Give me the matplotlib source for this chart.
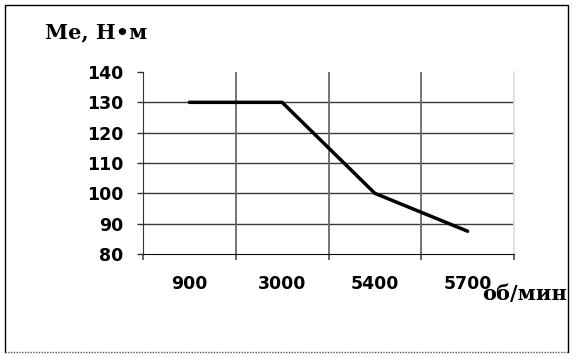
import matplotlib
matplotlib.use("Agg")
import matplotlib.pyplot as plt
from matplotlib.lines import Line2D

# данные
rpm = ["900", "3000", "5400", "5700"]
torque = [130, 130, 100, 87.5]
y_ticks = [80, 90, 100, 110, 120, 130, 140]

W, H = 577, 358
fig = plt.figure(figsize=(W / 100, H / 100), dpi=100)
ax = fig.add_axes([143 / W, 1 - 254 / H, (514 - 143) / W, (254 - 72) / H])

x = list(range(len(rpm)))
ax.plot(x, torque, color="black", lw=2.5, solid_capstyle="round", zorder=5)

ax.set_xlim(-0.5, len(rpm) - 0.5)
ax.set_ylim(y_ticks[0], y_ticks[-1])
ax.set_yticks(y_ticks)
ax.set_xticks(x)
ax.set_xticklabels(rpm)
ax.set_xticks([i - 0.5 for i in x] + [len(rpm) - 0.5], minor=True)

# сетка
for v in y_ticks[1:-1]:
    ax.axhline(v, color="#3a3a3a", lw=1.0, zorder=1)
for v in [i + 0.5 for i in x[:-1]]:
    ax.axvline(v, color="#6a6a6a", lw=1.3, zorder=1)

ax.spines["top"].set_visible(False)
ax.spines["right"].set_color("#dcdcdc")
ax.spines["right"].set_linewidth(1.2)
ax.spines["left"].set_color("#333333")
ax.spines["bottom"].set_color("#111111")

ax.tick_params(axis="y", length=4.3, width=1, color="#333333", pad=10,
               labelsize=12.5)
ax.tick_params(axis="x", which="major", length=0, pad=15, labelsize=12.5)
ax.tick_params(axis="x", which="minor", length=4.5, width=1.3,
               color="#5a5a5a")
for lab in ax.get_xticklabels() + ax.get_yticklabels():
    lab.set_fontfamily("DejaVu Sans")
    lab.set_fontweight("bold")

fig.text(45 / W, 1 - 38 / H, "Me, Н•м", family="DejaVu Serif",
         weight="bold", fontsize=15, va="baseline", ha="left")
fig.text(482 / W, 1 - 300 / H, "об/мин", family="DejaVu Serif",
         weight="bold", fontsize=15, va="baseline", ha="left")

# рамка
fx = lambda p: p / W
fy = lambda p: 1 - p / H
fig.add_artist(Line2D([fx(5), fx(5), fx(568), fx(568)],
                      [fy(352), fy(5), fy(5), fy(352)], color="black", lw=1))
fig.add_artist(Line2D([fx(5), fx(568)], [fy(352), fy(352)], color="#555555",
                      lw=1, ls=(0, (1, 1))))

fig.savefig("out.png", dpi=100)
